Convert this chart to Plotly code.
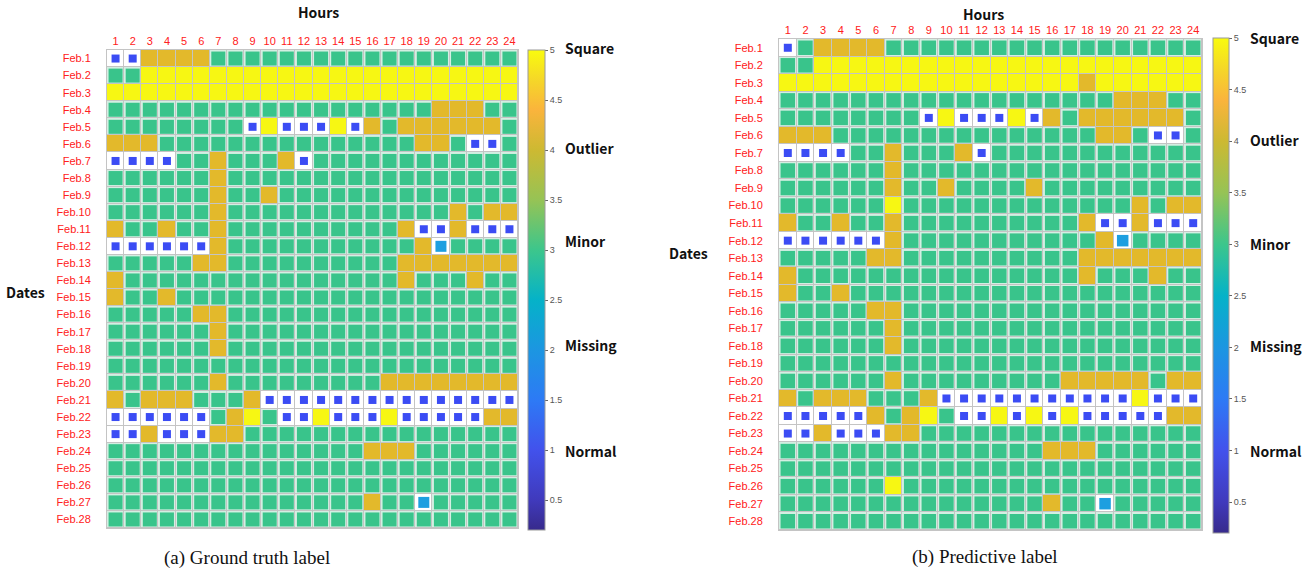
import plotly.graph_objects as go

# ---------------- data ----------------
hours = list(range(1, 25))
dates = [f"Feb.{d}" for d in range(1, 29)]

# N = Normal, M = Missing, G = Minor, O = Outlier, S = Square
category_codes = ["N", "M", "G", "O", "S"]
category_names = ["Normal", "Missing", "Minor", "Outlier", "Square"]
category_values = [1, 2, 3, 4, 5]
colorbar_ticks = [0.5, 1, 1.5, 2, 2.5, 3, 3.5, 4, 4.5, 5]

ground_truth = [
    "NNOOOOGGGGGGGGGGGGGGGGGG",  # Feb.1
    "GGSSSSSSSSSSSSSSSSSSSSSS",  # Feb.2
    "SSSSSSSSSSSSSSSSSSSSSSSS",  # Feb.3
    "GGGGGGGGGGGGGGGGGGGOOOGG",  # Feb.4
    "GGGGGGGGNSNNNSNOGOOOOOOG",  # Feb.5
    "OOOGGGGGGGGGGGGGGGOOGNNG",  # Feb.6
    "NNNNGGOGGGONGGGGGGGGGGGG",  # Feb.7
    "GGGGGGOGGGGGGGGGGGGGGGGG",  # Feb.8
    "GGGGGGOGGOGGGGGGGGGGGGGG",  # Feb.9
    "GGGGGGOGGGGGGGGGGGGGOGOO",  # Feb.10
    "OGGOGGOGGGGGGGGGGONNONNN",  # Feb.11
    "NNNNNNOGGGGGGGGGGGOMGGGG",  # Feb.12
    "GGGGGOOGGGGGGGGGGOOOOOOO",  # Feb.13
    "OGGGGGGGGGGGGGGGGOGGGOGG",  # Feb.14
    "OGGOGGGGGGGGGGGGGGGGGGGG",  # Feb.15
    "GGGGGOOGGGGGGGGGGGGGGGGG",  # Feb.16
    "GGGGGGOGGGGGGGGGGGGGGGGG",  # Feb.17
    "GGGGGGOGGGGGGGGGGGGGGGGG",  # Feb.18
    "GGGGGGGGGGGGGGGGGGGGGGGG",  # Feb.19
    "GGGGGGOGGGGGGGGGOOOOOOOO",  # Feb.20
    "OGOOOGGGONNNNNNNNNNNNNNN",  # Feb.21
    "NNNNNNGOSGNNSNNNSNNNNNOO",  # Feb.22
    "NNONNNOOGGGGGGGGGGGGGGGG",  # Feb.23
    "GGGGGGGGGGGGGGGOOOGGGGGG",  # Feb.24
    "GGGGGGGGGGGGGGGGGGGGGGGG",  # Feb.25
    "GGGGGGGGGGGGGGGGGGGGGGGG",  # Feb.26
    "GGGGGGGGGGGGGGGOGGMGGGGG",  # Feb.27
    "GGGGGGGGGGGGGGGGGGGGGGGG",  # Feb.28
]

predictive = [
    "NGOOOOGGGGGGGGGGGGGGGGGG",  # Feb.1
    "GGSSSSSSSSSSSSSSSSSSSSSS",  # Feb.2
    "SSSSSSSSSSSSSSSSSOSSSSSS",  # Feb.3
    "GGGGGGGGGGGGGGGGGGGOOOGG",  # Feb.4
    "GGGGGGGGNSNNNSNOGOOOOOOG",  # Feb.5
    "OOOGGGGGGGGGGGGGGGOOGNNG",  # Feb.6
    "NNNNGGOGGGONGGGGGGGGGGGG",  # Feb.7
    "GGGGGGOGGGGGGGGGGGGGGGGG",  # Feb.8
    "GGGGGGOGGOGGGGOGGGGGGGGG",  # Feb.9
    "GGGGGGSGGGGGGGGGGGGGOGOO",  # Feb.10
    "OGGOGGOGGGGGGGGGGONNONNN",  # Feb.11
    "NNNNNNOGGGGGGGGGGGOMGGGG",  # Feb.12
    "GGGGGOOGGGGGGGGGGOOOOOOO",  # Feb.13
    "OGGGGGGGGGGGGGGGGOGGGOGG",  # Feb.14
    "OGGOGGGGGGGGGGGGGGGGGGGG",  # Feb.15
    "GGGGGOOGGGGGGGGGGGGGGGGG",  # Feb.16
    "GGGGGGOGGGGGGGGGGGGGGGGG",  # Feb.17
    "GGGGGGOGGGGGGGGGGGGGGGGG",  # Feb.18
    "GGGGGGGGGGGGGGGGGGGGGGGG",  # Feb.19
    "GGGGGGOGGGGGGGGGOOOOOGOO",  # Feb.20
    "OGOOOGGGONNNNNNNNNNNSNNN",  # Feb.21
    "NNNNNOGOSGNNSNSNSNNNNNOO",  # Feb.22
    "NNONNNOOGGGGGGGGGGGGGGGG",  # Feb.23
    "GGGGGGGGGGGGGGGOOOGGGGGG",  # Feb.24
    "GGGGGGGGGGGGGGGGGGGGGGGG",  # Feb.25
    "GGGGGGSGGGGGGGGGGGGGGGGG",  # Feb.26
    "GGGGGGGGGGGGGGGOGGMGGGGG",  # Feb.27
    "GGGGGGGGGGGGGGGGGGGGGGGG",  # Feb.28
]

captions = ["(a) Ground truth label", "(b) Predictive label"]

# ---------------- styling ----------------
W, H = 1316, 576
RED = "#ff2020"
GRID = "#c4c4c4"
code_value = dict(zip(category_codes, category_values))
cell_bg = {"N": "white", "M": "white", "G": "#d3efe2", "O": "#e3b92b", "S": "#f7f713"}
marker_color = {"N": "#3b4cf4", "M": "#1d9fe0", "G": "#39c48b"}

parula = [
    [0.0, "rgb(55,42,140)"], [0.0625, "rgb(64,58,188)"], [0.167, "rgb(66,82,236)"],
    [0.271, "rgb(45,122,245)"], [0.375, "rgb(28,150,225)"], [0.479, "rgb(5,178,200)"],
    [0.583, "rgb(60,198,140)"], [0.6875, "rgb(150,195,85)"], [0.792, "rgb(205,185,50)"],
    [0.875, "rgb(250,180,60)"], [0.9375, "rgb(245,215,40)"], [1.0, "rgb(249,251,14)"],
]

bg_scale = []
for i, c in enumerate(category_codes):
    bg_scale.append([i / 5, cell_bg[c]])
    bg_scale.append([(i + 1) / 5, cell_bg[c]])

panels = [
    dict(grid=(107, 50, 518, 528), cb=(528, 17, 50, 530), lab_x=563,
         lab_y=[451, 345, 241, 148, 48], hours=(318, 12), dates=(25, 292),
         caption=(247, 558), sizes={"N": 8, "M": 11, "G": 14}),
    dict(grid=(779, 39, 1202, 530), cb=(1213, 16, 38, 533), lab_x=1248,
         lab_y=[451, 346, 244, 140, 38], hours=(983, 14), dates=(688, 253),
         caption=(985, 557), sizes={"N": 8, "M": 11.5, "G": 14.5}),
]
data_sets = [ground_truth, predictive]

fig = go.Figure()
annotations = []
layout_axes = {}

for p, (panel, rows) in enumerate(zip(panels, data_sets)):
    sfx = "" if p == 0 else str(p + 1)
    xa, ya = "x" + sfx, "y" + sfx
    x0, y0, x1, y1 = panel["grid"]

    z = [[code_value[ch] for ch in row] for row in rows]
    fig.add_trace(go.Heatmap(
        z=z, x=hours, y=list(range(1, 29)), colorscale=bg_scale,
        zmin=0.5, zmax=5.5, showscale=False, xgap=1, ygap=1,
        hoverinfo="skip", xaxis=xa, yaxis=ya))

    mx, my, mc, ms = [], [], [], []
    for r, row in enumerate(rows):
        for c, ch in enumerate(row):
            if ch in marker_color:
                mx.append(hours[c])
                my.append(r + 1)
                mc.append(marker_color[ch])
                ms.append(panel["sizes"][ch])
    fig.add_trace(go.Scatter(
        x=mx, y=my, mode="markers", hoverinfo="skip", showlegend=False,
        marker=dict(symbol="square", color=mc, size=ms, opacity=1, line=dict(width=0)),
        xaxis=xa, yaxis=ya))

    cbx, cbt, cby0, cby1 = panel["cb"]
    fig.add_trace(go.Scatter(
        x=[1], y=[1], mode="markers", hoverinfo="skip", showlegend=False,
        marker=dict(size=1, opacity=0, color=[3], colorscale=parula,
                    cmin=0.2, cmax=5, showscale=True,
                    colorbar=dict(
                        x=cbx / W, xanchor="left", xpad=0, ypad=0,
                        y=1 - (cby0 + cby1) / 2 / H, yanchor="middle",
                        lenmode="pixels", len=cby1 - cby0,
                        thicknessmode="pixels", thickness=cbt,
                        outlinewidth=1, outlinecolor="#9a9a9a",
                        tickmode="array", tickvals=colorbar_ticks,
                        ticktext=[f"{v:g}" for v in colorbar_ticks],
                        ticks="outside", ticklen=3, tickcolor="#666",
                        tickfont=dict(size=9, color="#555", family="Liberation Sans"))),
        xaxis=xa, yaxis=ya))

    layout_axes["xaxis" + sfx] = dict(
        domain=[x0 / W, x1 / W], range=[0.5, 24.5], side="top", anchor=ya,
        tickmode="array", tickvals=hours, ticktext=[str(h) for h in hours],
        tickfont=dict(size=11, color=RED, family="Liberation Sans"),
        ticks="", showgrid=False, zeroline=False, showline=True,
        linecolor=GRID, linewidth=1, mirror=True, fixedrange=True)
    layout_axes["yaxis" + sfx] = dict(
        domain=[1 - y1 / H, 1 - y0 / H], range=[28.5, 0.5], anchor=xa,
        tickmode="array", tickvals=list(range(1, 29)), ticktext=dates,
        tickfont=dict(size=11, color=RED, family="Liberation Sans"),
        ticks="outside", ticklen=13, tickcolor="rgba(0,0,0,0)",
        showgrid=False, zeroline=False, showline=True,
        linecolor=GRID, linewidth=1, mirror=True, fixedrange=True)

    bold = dict(family="Noto Sans CJK KR", size=14, color="#111")
    hx, hy = panel["hours"]
    annotations.append(dict(x=hx / W, y=1 - hy / H, xref="paper", yref="paper",
                            text="<b>Hours</b>", showarrow=False, font=bold,
                            xanchor="center", yanchor="middle"))
    dx, dy = panel["dates"]
    annotations.append(dict(x=dx / W, y=1 - dy / H, xref="paper", yref="paper",
                            text="<b>Dates</b>", showarrow=False, font=bold,
                            xanchor="center", yanchor="middle"))
    for name, ly in zip(category_names, panel["lab_y"]):
        annotations.append(dict(x=panel["lab_x"] / W, y=1 - ly / H,
                                xref="paper", yref="paper", text=f"<b>{name}</b>",
                                showarrow=False, font=bold,
                                xanchor="left", yanchor="middle"))
    cx, cy = panel["caption"]
    annotations.append(dict(x=cx / W, y=1 - cy / H, xref="paper", yref="paper",
                            text=captions[p], showarrow=False,
                            font=dict(family="Liberation Serif", size=19, color="#111"),
                            xanchor="center", yanchor="middle"))

fig.update_layout(
    width=W, height=H, margin=dict(l=0, r=0, t=0, b=0),
    paper_bgcolor="white", plot_bgcolor=GRID, showlegend=False,
    annotations=annotations, **layout_axes)

fig.write_html(
    "out.html",
    config={"displayModeBar": False},
    post_script="document.body.style.margin='0';document.body.style.overflow='hidden';")
